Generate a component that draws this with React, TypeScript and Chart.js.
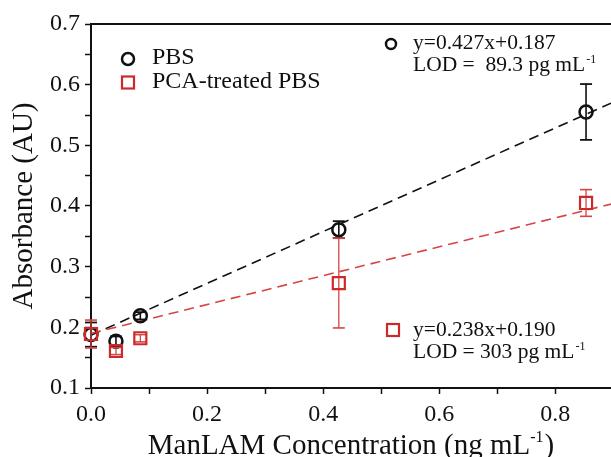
import React, { useEffect, useRef } from 'react';
import { Chart, registerables } from 'chart.js';

Chart.register(...registerables);

// ---- data ----
const concentrations = [0, 0.043, 0.085, 0.427, 0.853];
const pbsValues = [0.188, 0.177, 0.219, 0.361, 0.555];
const pbsErrors = [0.02, 0.008, 0.006, 0.014, 0.046];
const pcaValues = [0.189, 0.161, 0.182, 0.273, 0.405];
const pcaErrors = [0.023, 0.006, 0.006, 0.074, 0.022];
const fitX = [0, 0.896];
const pbsFit = [0.187, 0.5696];
const pcaFit = [0.19, 0.4032];
const seriesNames = ['PBS', 'PCA-treated PBS'];
const pbsAnnotation = ['y=0.427x+0.187', 'LOD =  89.3 pg mL'];
const pcaAnnotation = ['y=0.238x+0.190', 'LOD = 303 pg mL'];
const xTitle = 'ManLAM Concentration (ng mL';
const yTitle = 'Absorbance (AU)';

const BLACK = '#111111';
const RED = '#cc2a2a';
const RED_LINE = '#d84444';
const FONT = '"Liberation Serif", "Times New Roman", serif';

const pts = (xs: number[], ys: number[]) => xs.map((x, i) => ({ x, y: ys[i] }));
const errPts = (vals: number[], errs: number[]) =>
  concentrations.flatMap((x, i) => [
    { x, y: vals[i] - errs[i] },
    { x, y: vals[i] + errs[i] },
    { x, y: null as any },
  ]);

const decorPlugin = {
  id: 'decor',
  afterDraw(chart: any) {
    const { ctx, chartArea: a } = chart;
    ctx.save();
    // top frame line
    ctx.strokeStyle = BLACK;
    ctx.lineWidth = 2;
    ctx.beginPath();
    ctx.moveTo(a.left - 1, a.top);
    ctx.lineTo(a.right, a.top);
    ctx.stroke();

    ctx.fillStyle = BLACK;
    ctx.textBaseline = 'alphabetic';
    ctx.textAlign = 'left';

    // legend
    ctx.lineWidth = 2.5;
    ctx.strokeStyle = BLACK;
    ctx.beginPath();
    ctx.arc(a.left + 37, a.top + 35, 6, 0, Math.PI * 2);
    ctx.stroke();
    ctx.strokeStyle = RED;
    ctx.lineWidth = 2.2;
    ctx.strokeRect(a.left + 37 - 6, a.top + 58.5 - 6, 12, 12);
    ctx.font = `24px ${FONT}`;
    ctx.fillText(seriesNames[0], a.left + 61, a.top + 40);
    ctx.fillText(seriesNames[1], a.left + 61, a.top + 64);

    // annotations
    const annX = 413;
    ctx.strokeStyle = BLACK;
    ctx.lineWidth = 2.5;
    ctx.beginPath();
    ctx.arc(391, 44, 5, 0, Math.PI * 2);
    ctx.stroke();
    ctx.font = `21.5px ${FONT}`;
    ctx.fillText(pbsAnnotation[0], annX, 49);
    ctx.fillText(pbsAnnotation[1], annX, 71);
    let w = ctx.measureText(pbsAnnotation[1]).width;
    ctx.font = `12px ${FONT}`;
    ctx.fillText('-1', annX + w + 1, 63);

    ctx.strokeStyle = RED;
    ctx.lineWidth = 2.2;
    ctx.strokeRect(393 - 6, 330 - 6, 12, 12);
    ctx.font = `21.5px ${FONT}`;
    ctx.fillStyle = BLACK;
    ctx.fillText(pcaAnnotation[0], annX, 336);
    ctx.fillText(pcaAnnotation[1], annX, 358);
    w = ctx.measureText(pcaAnnotation[1]).width;
    ctx.font = `12px ${FONT}`;
    ctx.fillText('-1', annX + w + 1, 350);

    // x title with superscript
    ctx.font = `29px ${FONT}`;
    const w1 = ctx.measureText(xTitle).width;
    const w3 = ctx.measureText(')').width;
    ctx.font = `16px ${FONT}`;
    const w2 = ctx.measureText('-1').width;
    const total = w1 + w2 + w3 + 1;
    const cx = (a.left + a.right) / 2;
    let sx = cx - total / 2;
    const by = 454;
    ctx.font = `29px ${FONT}`;
    ctx.fillText(xTitle, sx, by);
    sx += w1;
    ctx.font = `16px ${FONT}`;
    ctx.fillText('-1', sx, by - 12);
    sx += w2 + 1;
    ctx.font = `29px ${FONT}`;
    ctx.fillText(')', sx, by);

    ctx.restore();
  },
};

export default function App() {
  const ref = useRef<HTMLCanvasElement | null>(null);
  useEffect(() => {
    if (!ref.current) return;
    const tickFont = { family: FONT, size: 24 };
    const chart = new Chart(ref.current, {
      type: 'scatter',
      data: {
        datasets: [
          {
            label: 'PCA points',
            data: pts(concentrations, pcaValues),
            pointStyle: 'rect',
            pointRadius: 8.5,
            pointBorderWidth: 2.2,
            borderColor: RED,
            backgroundColor: 'rgba(0,0,0,0)',
            clip: false,
            order: 0,
          },
          {
            label: 'PCA error',
            data: errPts(pcaValues, pcaErrors),
            showLine: true,
            spanGaps: false,
            borderColor: RED_LINE,
            borderWidth: 1.3,
            pointStyle: 'line',
            pointRadius: 6,
            pointBorderWidth: 1.6,
            pointBorderColor: RED_LINE,
            clip: false,
            order: 1,
          },
          {
            label: 'PBS points',
            data: pts(concentrations, pbsValues),
            pointStyle: 'circle',
            pointRadius: 6.5,
            pointBorderWidth: 2.5,
            borderColor: BLACK,
            backgroundColor: 'rgba(0,0,0,0)',
            clip: false,
            order: 2,
          },
          {
            label: 'PBS error',
            data: errPts(pbsValues, pbsErrors),
            showLine: true,
            spanGaps: false,
            borderColor: BLACK,
            borderWidth: 1.6,
            pointStyle: 'line',
            pointRadius: 6,
            pointBorderWidth: 1.8,
            pointBorderColor: BLACK,
            clip: false,
            order: 3,
          },
          {
            label: 'PCA fit',
            data: pts(fitX, pcaFit),
            showLine: true,
            pointRadius: 0,
            borderColor: RED_LINE,
            borderWidth: 1.6,
            borderDash: [10, 6],
            order: 4,
          },
          {
            label: 'PBS fit',
            data: pts(fitX, pbsFit),
            showLine: true,
            pointRadius: 0,
            borderColor: BLACK,
            borderWidth: 1.6,
            borderDash: [10, 6],
            order: 5,
          },
        ],
      },
      options: {
        responsive: false,
        animation: false,
        devicePixelRatio: 1,
        layout: { autoPadding: false, padding: { top: 24, left: 0, right: 0, bottom: 0 } },
        plugins: { legend: { display: false }, tooltip: { enabled: false } },
        scales: {
          x: {
            type: 'linear',
            min: 0,
            max: 0.896,
            afterFit: (s: any) => { s.height = 69; },
            ticks: {
              stepSize: 0.1,
              includeBounds: false,
              autoSkip: false,
              maxRotation: 0,
              padding: 6,
              color: BLACK,
              font: tickFont,
              callback: (v: any) => {
                const n = Math.round(Number(v) * 10);
                return n % 2 === 0 ? (n / 10).toFixed(1) : '';
              },
            },
            grid: { drawOnChartArea: false, drawTicks: true, tickLength: 6, tickWidth: 1.5, tickColor: BLACK },
            border: { color: BLACK, width: 2 },
          },
          y: {
            type: 'linear',
            min: 0.1,
            max: 0.7,
            afterFit: (s: any) => { s.width = 91; },
            title: {
              display: true,
              text: yTitle,
              color: BLACK,
              font: { family: FONT, size: 29 },
              padding: { top: 6.6, bottom: 0 },
            },
            ticks: {
              stepSize: 0.05,
              autoSkip: false,
              padding: 5,
              color: BLACK,
              font: tickFont,
              callback: (v: any) => {
                const n = Number(v) * 10;
                return Math.abs(n - Math.round(n)) < 1e-6 ? (Math.round(n) / 10).toFixed(1) : '';
              },
            },
            grid: { drawOnChartArea: false, drawTicks: true, tickLength: 6, tickWidth: 1.5, tickColor: BLACK },
            border: { color: BLACK, width: 2 },
          },
        },
      },
      plugins: [decorPlugin],
    } as any);
    return () => chart.destroy();
  }, []);
  return (
    <div style={{ position: 'fixed', left: 0, top: 0, width: 611, height: 457, background: '#fff' }}>
      <canvas ref={ref} width={611} height={457} />
    </div>
  );
}
